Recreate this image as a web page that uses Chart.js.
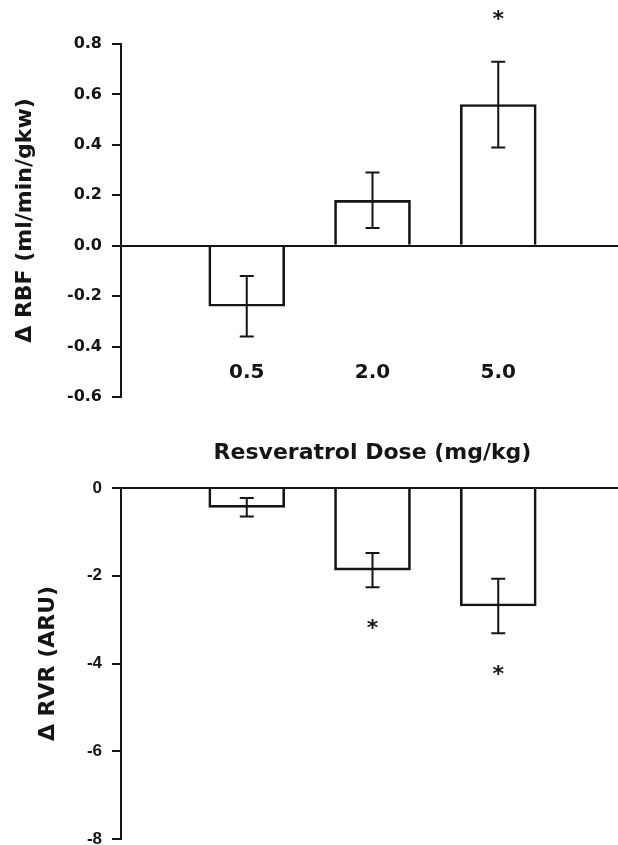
<!DOCTYPE html>
<html>
<head>
<meta charset="utf-8">
<script src="https://cdn.jsdelivr.net/npm/chart.js@4.4.1/dist/chart.umd.min.js"></script>
<style>
  body { margin: 0; background: #fff; overflow: hidden; }
  /* the plot in the original figure runs a few pixels past the right edge */
  .box { position: relative; width: 624px; }
  #top { height: 420px; }
  #bottom { height: 425px; }
</style>
</head>
<body>
<div class="box" id="top"><canvas id="rbfChart"></canvas></div>
<div class="box" id="bottom"><canvas id="rvrChart"></canvas></div>
<script>
// empty slots at both ends so the three doses sit evenly inside the axis
const doses = ['', '0.5', '2.0', '5.0', ''];

const rbfMean = [null, -0.24, 0.18, 0.56, null];
const rbfSem = [null, 0.12, 0.11, 0.17, null];
const rbfSig = [false, false, false, true, false];
const rbfTicks = [-0.6, -0.4, -0.2, 0.0, 0.2, 0.4, 0.6, 0.8];

const rvrMean = [null, -0.44, -1.87, -2.69, null];
const rvrSem = [null, 0.21, 0.39, 0.62, null];
const rvrSig = [false, false, true, true, false];
const rvrTicks = [-8, -6, -4, -2, 0];

const ink = '#151515';
const titleFont = { family: 'DejaVu Sans', weight: 'bold', size: 22 };

// error bars + significance stars, drawn through the chart's own y scale
const errorBars = {
  id: 'errorBars',
  afterDatasetsDraw(chart, args, opts) {
    const ctx = chart.ctx;
    const y = chart.scales.y;
    const meta = chart.getDatasetMeta(0);
    ctx.save();
    ctx.strokeStyle = ink;
    ctx.fillStyle = ink;
    ctx.lineWidth = 2;
    ctx.font = 'bold 22px "DejaVu Sans"';
    ctx.textAlign = 'center';
    ctx.textBaseline = 'alphabetic';
    opts.mean.forEach((m, i) => {
      if (m == null) return;
      const x = meta.data[i].x;
      const hi = y.getPixelForValue(m + opts.sem[i]);
      const lo = y.getPixelForValue(m - opts.sem[i]);
      ctx.beginPath();
      ctx.moveTo(x, hi); ctx.lineTo(x, lo);
      ctx.moveTo(x - 7, hi); ctx.lineTo(x + 7, hi);
      ctx.moveTo(x - 7, lo); ctx.lineTo(x + 7, lo);
      ctx.stroke();
      if (opts.sig[i]) {
        const sy = m > 0 ? hi - 44 : lo + 40;
        ctx.fillText('*', x, sy + 8);
      }
    });
    ctx.restore();
  }
};

function barSet(values) {
  return [{
    data: values,
    backgroundColor: 'rgba(255,255,255,0)',
    borderColor: ink,
    borderWidth: 2,
    borderSkipped: 'start',
    barThickness: 76
  }];
}

new Chart(document.getElementById('rbfChart'), {
  type: 'bar',
  data: { labels: doses, datasets: barSet(rbfMean) },
  options: {
    responsive: true,
    maintainAspectRatio: false,
    animation: false,
    layout: { padding: { top: 44, bottom: 23, left: 0, right: 0 } },
    plugins: {
      legend: { display: false },
      tooltip: { enabled: false },
      errorBars: { mean: rbfMean, sem: rbfSem, sig: rbfSig }
    },
    scales: {
      x: {
        position: { y: 0 },
        offset: false,
        afterFit: s => { s.paddingLeft = 0; s.paddingRight = 0; },
        grid: { display: true, drawOnChartArea: false, drawTicks: false },
        border: { display: true, color: ink, width: 2, z: 1 },
        ticks: {
          color: ink,
          font: { family: 'DejaVu Sans', weight: 'bold', size: 20 },
          padding: 115,
          maxRotation: 0,
          autoSkip: false
        }
      },
      y: {
        min: -0.6,
        max: 0.8,
        afterBuildTicks: s => { s.ticks = rbfTicks.map(v => ({ value: v })); },
        afterFit: s => { s.width = 121; },
        grid: { drawOnChartArea: false, color: ink, lineWidth: 2, tickLength: 9 },
        border: { color: ink, width: 2 },
        ticks: {
          color: ink,
          padding: 10,
          font: { family: 'DejaVu Sans', weight: 'bold', size: 16 },
          callback: v => v.toFixed(1)
        },
        title: {
          display: true,
          text: '\u0394 RBF (ml/min/gkw)',
          color: ink,
          font: titleFont,
          padding: { top: 12, bottom: 0 }
        }
      }
    }
  },
  plugins: [errorBars]
});

new Chart(document.getElementById('rvrChart'), {
  type: 'bar',
  data: { labels: doses, datasets: barSet(rvrMean) },
  options: {
    responsive: true,
    maintainAspectRatio: false,
    animation: false,
    layout: { padding: { top: 0, bottom: 6, left: 0, right: 0 } },
    plugins: {
      legend: { display: false },
      tooltip: { enabled: false },
      errorBars: { mean: rvrMean, sem: rvrSem, sig: rvrSig }
    },
    scales: {
      x: {
        position: 'top',
        offset: false,
        afterFit: s => { s.height = 68; s.paddingLeft = 0; s.paddingRight = 0; },
        grid: { display: true, drawOnChartArea: false, drawTicks: false },
        border: { display: true, color: ink, width: 2, z: 1 },
        ticks: { display: false },
        title: {
          display: true,
          text: 'Resveratrol Dose (mg/kg)',
          color: ink,
          font: titleFont,
          padding: { top: 20, bottom: 0 }
        }
      },
      y: {
        min: -8,
        max: 0,
        afterBuildTicks: s => { s.ticks = rvrTicks.map(v => ({ value: v })); },
        afterFit: s => { s.width = 121; s.paddingTop = 0; s.paddingBottom = 0; },
        grid: { drawOnChartArea: false, color: ink, lineWidth: 2, tickLength: 9 },
        border: { color: ink, width: 2 },
        ticks: {
          color: ink,
          padding: 10,
          font: { family: 'Liberation Sans', weight: 'bold', size: 17 }
        },
        title: {
          display: true,
          text: '\u0394 RVR (ARU)',
          color: ink,
          font: titleFont,
          padding: { top: 35, bottom: 0 }
        }
      }
    }
  },
  plugins: [errorBars]
});
</script>
</body>
</html>
